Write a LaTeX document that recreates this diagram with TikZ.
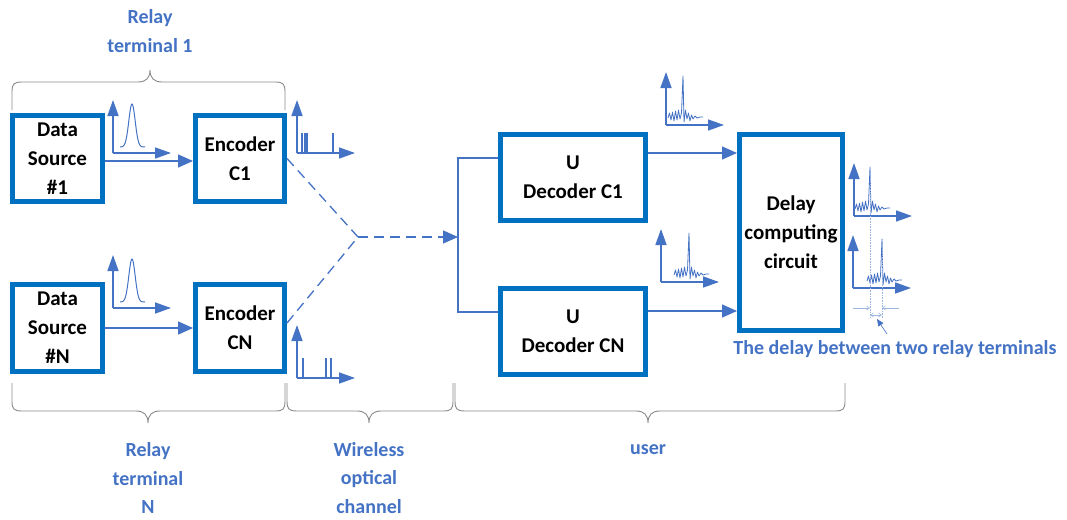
\documentclass[tikz,border=0pt]{standalone}
\usepackage{fontspec}
\setmainfont{Carlito}
\usetikzlibrary{arrows.meta}

\definecolor{boxblue}{HTML}{0070C0}
\definecolor{lineblue}{HTML}{4472C4}
\definecolor{lightblue}{HTML}{9DB5E0}
\definecolor{bracegray}{HTML}{8A8A8A}

% axes of a small signal sketch, origin at the corner
\newcommand{\plotaxes}{%
  \draw[axisarr] (0,0) -- (0,-53);
  \draw[axisarr] (0,0) -- (58,0);}

% horizontal curly brace: left x, right x, tip x, end y, direction (+1 down, -1 up)
\newcommand{\curlybrace}[5]{%
  \draw[brc] (#1,#4) -- (#1,{#4+#5*18})
    .. controls (#1,{#4+#5*26}) and ({#1+2},{#4+#5*28}) .. ({#1+10},{#4+#5*28})
    -- ({#3-12},{#4+#5*28})
    .. controls ({#3-4},{#4+#5*28}) and (#3,{#4+#5*32}) .. (#3,{#4+#5*40})
    .. controls (#3,{#4+#5*32}) and ({#3+4},{#4+#5*28}) .. ({#3+12},{#4+#5*28})
    -- ({#2-10},{#4+#5*28})
    .. controls ({#2-2},{#4+#5*28}) and (#2,{#4+#5*26}) .. (#2,{#4+#5*18})
    -- (#2,#4);}

\tikzset{
  blk/.style={draw=boxblue, line width=5pt, fill=white, inner sep=0pt,
    align=center, text=black, font=\fontsize{21}{29}\selectfont\bfseries},
  arr/.style={draw=lineblue, line width=1.5pt,
    -{Triangle[length=15pt,width=13pt]}},
  conn/.style={draw=lineblue, line width=1.3pt},
  dsh/.style={conn, dash pattern=on 10pt off 6pt},
  axisarr/.style={draw=lineblue, line width=1.6pt,
    -{Triangle[length=16pt,width=11pt]}},
  sig/.style={draw=lineblue, line width=0.8pt, line join=round},
  lbl/.style={text=lineblue, align=center},
  brc/.style={draw=bracegray, line width=0.9pt},
  dim/.style={draw=lightblue, line width=0.6pt},
  pics/gauss/.style={code={%
    \plotaxes
    \draw[sig, line width=1pt, domain=7:32, samples=80, smooth]
      plot (\x, {-6-43*exp(-((\x-19)/4.5)*((\x-19)/4.5))});}},
  pics/spikes/.style={code={%
    \plotaxes
    \foreach \s in {#1} \draw[sig, line width=1.2pt] (\s,0) -- (\s,-20);}},
  pics/noise/.style={code={%
    \plotaxes
    \draw[sig, shift={(#1,0)}] plot coordinates {
      (-15,-7) (-13.5,-12) (-12,-5) (-10.5,-13) (-9,-4) (-7.5,-14)
      (-6,-5) (-4.5,-15) (-3,-6) (-1.5,-12) (0,-49) (1,-3) (2.5,-15)
      (4,-6) (5.5,-12) (7,-4) (8.5,-10) (10,-6) (12,-9) (14,-7)
      (17,-8) (20,-8)};}},
}

\begin{document}
\begin{tikzpicture}[x=1pt, y=-1pt, font=\fontsize{20}{28.5}\selectfont\bfseries]
\useasboundingbox (0,0) rectangle (1067,519);

% ---- relay terminals ----
\node[blk, minimum width=90pt, minimum height=86pt] (ds1) at (57.5,158.5)
  {Data\\Source\\\#1};
\node[blk, minimum width=89pt, minimum height=86pt] (enc1) at (240,158.5)
  {Encoder\\C1};
\node[blk, minimum width=90pt, minimum height=87pt] (dsN) at (57.5,328)
  {Data\\Source\\\#N};
\node[blk, minimum width=89pt, minimum height=87pt] (encN) at (240,328)
  {Encoder\\CN};

% ---- user side ----
\node[blk, minimum width=145pt, minimum height=86pt] (dec1) at (573,177.5)
  {U\\Decoder C1};
\node[blk, minimum width=145pt, minimum height=86pt] (decN) at (573,331.5)
  {U\\Decoder CN};
\node[blk, minimum width=103pt, minimum height=196pt] (delay) at (791,232.5)
  {Delay\\computing\\circuit};

% ---- source to encoder ----
\coordinate (a1) at ([yshift=-2.5pt]ds1.east);
\draw[arr] (a1) -- (a1 -| enc1.west);
\draw[arr] (dsN.east) -- (encN.west);

% ---- wireless optical channel ----
\coordinate (J) at (358,237);
\coordinate (S) at (458,237);
\draw[dsh] (enc1.east) -- (J);
\draw[dsh] ([yshift=5pt]encN.east) -- (J);
\draw[dsh, -{Triangle[length=15pt,width=13pt]}] (J) -- (S);
\draw[conn] ([yshift=19.5pt]dec1.west) -| (S) |- ([yshift=19.5pt]decN.west);

% ---- decoders to delay circuit ----
\coordinate (o1) at ([yshift=24.5pt]dec1.east);
\coordinate (oN) at ([yshift=20.5pt]decN.east);
\draw[arr] (o1) -- (o1 -| delay.west);
\draw[arr] (oN) -- (oN -| delay.west);

% ---- signal sketches ----
\pic at (113,153) {gauss};
\pic at (113,308) {gauss};
\pic at (297,153) {spikes={5,8,10,36}};
\pic at (297,378) {spikes={6,29,34}};
\pic at (666,125) {noise=17};
\pic at (661,282) {noise=28};
\pic at (854,216) {noise=16};
\pic at (853,288) {noise=29};

% ---- delay measurement ----
\draw[dim, densely dotted] (870,168) -- (870,318);
\draw[dim, densely dotted] (882,239) -- (882,318);
\draw[dim, -{Straight Barb[length=3pt,width=4pt]}] (853,308) -- (870,308);
\draw[dim, -{Straight Barb[length=3pt,width=4pt]}] (899,308) -- (882,308);
\draw[dim, {Straight Barb[length=3pt,width=4pt]}-{Straight Barb[length=3pt,width=4pt]}] (870,315) -- (882,315);
\coordinate (ptr) at (887,334);
\coordinate (ptrtip) at (877,319);
\draw[dim, -{Triangle[length=7pt,width=6pt]}, lineblue] (ptr) -- (ptrtip);
\node[lbl] (dl) at (895,349) {The delay between two relay terminals};

% ---- braces and group labels ----
\curlybrace{12}{285}{150}{110}{-1}
\node[lbl] (rt1) at (150,31) {Relay\\terminal 1};
\curlybrace{12}{285}{148}{383}{1}
\curlybrace{287}{453}{369}{383}{1}
\curlybrace{455}{845}{648}{383}{1}
\node[lbl] (rtN) at (148,478) {Relay\\terminal\\N};
\node[lbl] (woc) at (369,478) {Wireless\\optical\\channel};
\node[lbl] (usr) at (648,450) {user};
\end{tikzpicture}
\end{document}
